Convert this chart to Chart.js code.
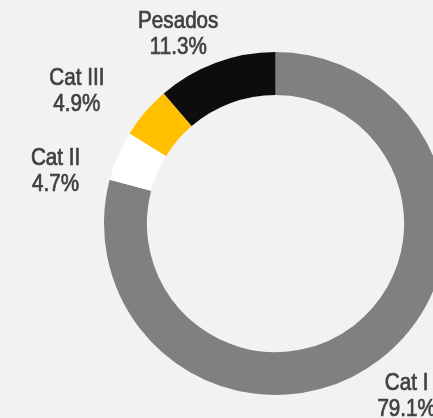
<!DOCTYPE html>
<html>
<head>
<meta charset="utf-8">
<script src="https://cdn.jsdelivr.net/npm/chart.js@4"></script>
<style>
  html, body { margin: 0; padding: 0; background: #f2f2f2; overflow: hidden; }
  #wrap { width: 433px; height: 418px; overflow: hidden; position: relative; }
  canvas { position: absolute; left: 0; top: 0; }
</style>
</head>
<body>
<div id="wrap"><canvas id="chart" width="550" height="447"></canvas></div>
<script>
const categories = ['Cat I', 'Cat II', 'Cat III', 'Pesados'];
const shares = [79.1, 4.7, 4.9, 11.3];
const sliceColors = ['#808080', '#ffffff', '#ffc000', '#0d0d0d'];

// label nudges (px) from the mid-angle point, like Excel best fit
const labelNudge = [[-1, 1], [-21, 33], [-34, 8], [-22, 14]];

const outsideLabels = {
    id: 'outsideLabels',
    afterDatasetsDraw(chart) {
        const ctx = chart.ctx;
        const meta = chart.getDatasetMeta(0);
        meta.data.forEach((arc, i) => {
            const p = arc.getProps(['x', 'y', 'startAngle', 'endAngle', 'outerRadius'], true);
            const mid = (p.startAngle + p.endAngle) / 2;
            const d = p.outerRadius + 45;
            const x = p.x + Math.cos(mid) * d + labelNudge[i][0];
            const y = p.y + Math.sin(mid) * d + labelNudge[i][1];
            ctx.save();
            // condensed look: squeeze text horizontally around its centre
            ctx.translate(x, y);
            ctx.scale(0.86, 1);
            ctx.font = '24px "Liberation Sans", Arial, sans-serif';
            ctx.fillStyle = '#404040';
            ctx.strokeStyle = '#404040';
            ctx.lineWidth = 0.7;
            ctx.textAlign = 'center';
            ctx.textBaseline = 'middle';
            const line1 = categories[i];
            const line2 = shares[i].toFixed(1) + '%';
            ctx.fillText(line1, 0, -13);
            ctx.strokeText(line1, 0, -13);
            ctx.fillText(line2, 0, 13);
            ctx.strokeText(line2, 0, 13);
            ctx.restore();
        });
    }
};

new Chart(document.getElementById('chart'), {
    type: 'doughnut',
    data: {
        labels: categories,
        datasets: [{
            data: shares,
            backgroundColor: sliceColors,
            borderWidth: 0,
            hoverOffset: 0
        }]
    },
    options: {
        responsive: false,
        animation: false,
        cutout: '75%',
        layout: { padding: { top: 52, bottom: 52, left: 104, right: 103 } },
        plugins: {
            legend: { display: false },
            tooltip: { enabled: false }
        }
    },
    plugins: [outsideLabels]
});
</script>
</body>
</html>
